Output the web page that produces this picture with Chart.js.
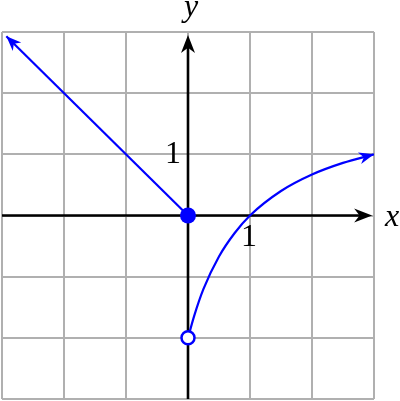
<!DOCTYPE html>
<html>
<head>
<meta charset="utf-8">
<script src="https://cdn.jsdelivr.net/npm/chart.js@4/dist/chart.umd.min.js"></script>
<style>
  html, body { margin: 0; padding: 0; background: #fff; }
  #wrap { width: 400px; height: 401px; position: relative; }
  .lbl {
    position: absolute;
    font-family: "Liberation Serif", "Times New Roman", Times, serif;
    font-size: 32px;
    line-height: normal;
    color: #000;
    transform: translateX(-50%);
    white-space: nowrap;
  }
  .it { font-style: italic; }
</style>
</head>
<body>
<div id="wrap">
  <canvas id="graph"></canvas>
  <span class="lbl it" id="lblX"></span>
  <span class="lbl it" id="lblY"></span>
  <span class="lbl" id="oneX"></span>
  <span class="lbl" id="oneY"></span>
</div>
<script>
// axis ranges and tick values
const xRange = [-3, 3];
const yRange = [-3, 3];
const tickStep = 1;

// left ray y = -x (ends with an arrow)
const rayX = [0, -2.93];
const rayY = [0, 2.93];

// right curve (ends with an arrow at (3, 1))
const curveX = [0, 0.1, 0.25, 0.5, 0.75, 1, 1.5, 2, 2.5, 3];
const curveY = [-2, -1.64, -1.2, -0.67, -0.29, 0, 0.4, 0.67, 0.86, 1];

// endpoints
const closedPt = [0, 0];
const openPt = [0, -2];

// axis labels
const axisNames = ['x', 'y'];
const unitLabels = ['1', '1'];

const blue = '#0000ff';
const gridGray = '#b0b0b0';

function toPts(xs, ys) {
    return xs.map((x, i) => ({ x: x, y: ys[i] }));
}

// draws a stealth style arrowhead with tip at (tx, ty)
function arrowHead(ctx, tx, ty, ang, len, half, color) {
    const c = Math.cos(ang), s = Math.sin(ang);
    const pt = (a, b) => [tx - a * c + b * s, ty - a * s - b * c];
    const p1 = pt(len, half);
    const p2 = pt(len * 0.7, 0);
    const p3 = pt(len, -half);
    ctx.save();
    ctx.fillStyle = color;
    ctx.beginPath();
    ctx.moveTo(tx, ty);
    ctx.lineTo(p1[0], p1[1]);
    ctx.lineTo(p2[0], p2[1]);
    ctx.lineTo(p3[0], p3[1]);
    ctx.closePath();
    ctx.fill();
    ctx.restore();
}

const axesPlugin = {
    id: 'axesPlugin',
    beforeDatasetsDraw(chart) {
        const ctx = chart.ctx;
        const xs = chart.scales.x, ys = chart.scales.y;
        const x0 = xs.getPixelForValue(0), y0 = ys.getPixelForValue(0);
        const xEnd = xs.getPixelForValue(2.97);
        const yEnd = ys.getPixelForValue(2.95);
        ctx.save();
        ctx.strokeStyle = '#000';
        ctx.lineWidth = 2.6;
        ctx.beginPath();
        ctx.moveTo(xs.getPixelForValue(xRange[0]), y0);
        ctx.lineTo(xEnd - 8, y0);
        ctx.moveTo(x0, ys.getPixelForValue(yRange[0]));
        ctx.lineTo(x0, yEnd + 8);
        ctx.stroke();
        ctx.restore();
        arrowHead(ctx, xEnd, y0, 0, 18, 7, '#000');
        arrowHead(ctx, x0, yEnd, -Math.PI / 2, 18, 7, '#000');
    },
    afterDatasetsDraw(chart) {
        const ctx = chart.ctx;
        const xs = chart.scales.x, ys = chart.scales.y;
        // blue arrowheads at the end of each series
        [[rayX, rayY], [curveX, curveY]].forEach(([sx, sy]) => {
            const n = sx.length;
            const ax = xs.getPixelForValue(sx[n - 2]), ay = ys.getPixelForValue(sy[n - 2]);
            const bx = xs.getPixelForValue(sx[n - 1]), by = ys.getPixelForValue(sy[n - 1]);
            arrowHead(ctx, bx, by, Math.atan2(by - ay, bx - ax), 15, 6, blue);
        });
    }
};

const chart = new Chart(document.getElementById('graph'), {
    type: 'scatter',
    data: {
        datasets: [
            {
                data: toPts(rayX, rayY),
                showLine: true,
                borderColor: blue,
                borderWidth: 2.2,
                pointRadius: 0,
                order: 3
            },
            {
                data: toPts(curveX, curveY),
                showLine: true,
                borderColor: blue,
                borderWidth: 2.2,
                pointRadius: 0,
                cubicInterpolationMode: 'monotone',
                order: 3
            },
            {
                data: [{ x: closedPt[0], y: closedPt[1] }],
                pointRadius: 8,
                backgroundColor: blue,
                borderColor: blue,
                borderWidth: 0,
                order: 1
            },
            {
                data: [{ x: openPt[0], y: openPt[1] }],
                pointRadius: 6.5,
                backgroundColor: '#fff',
                borderColor: blue,
                borderWidth: 2.5,
                order: 1
            }
        ]
    },
    options: {
        responsive: true,
        maintainAspectRatio: false,
        animation: false,
        layout: { autoPadding: false, padding: { left: 2, right: 26, top: 32, bottom: 2 } },
        plugins: { legend: { display: false }, tooltip: { enabled: false } },
        scales: {
            x: {
                min: xRange[0], max: xRange[1],
                ticks: { display: false, stepSize: tickStep, padding: 0 },
                grid: { color: gridGray, lineWidth: 2, drawTicks: false },
                border: { display: false },
                afterFit: (scale) => { scale.height = 0; }
            },
            y: {
                min: yRange[0], max: yRange[1],
                ticks: { display: false, stepSize: tickStep, padding: 0 },
                grid: { color: gridGray, lineWidth: 2, drawTicks: false },
                border: { display: false },
                afterFit: (scale) => { scale.width = 0; }
            }
        }
    },
    plugins: [axesPlugin]
});

// place the text labels from the scale positions (baseline = top + 0.891 * 32)
function place(id, text, cx, baseline) {
    const el = document.getElementById(id);
    el.textContent = text;
    el.style.left = cx + 'px';
    el.style.top = (baseline - 28.5) + 'px';
}
const sx = chart.scales.x, sy = chart.scales.y;
const ox = sx.getPixelForValue(0), oy = sy.getPixelForValue(0);
place('lblX', axisNames[0], 392, oy + 10);
place('lblY', axisNames[1], ox + 3, 15);
place('oneY', unitLabels[1], ox - 15, sy.getPixelForValue(1) + 8);
place('oneX', unitLabels[0], sx.getPixelForValue(1) - 1, oy + 30);
</script>
</body>
</html>
